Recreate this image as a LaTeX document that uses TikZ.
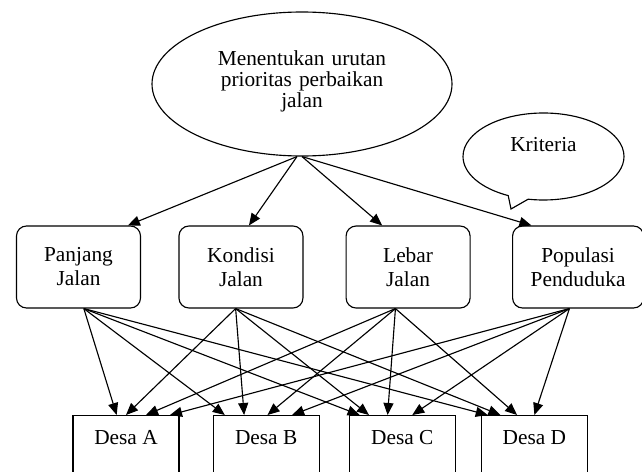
\documentclass[tikz,border=0pt]{standalone}
\usepackage{fontspec}
\setmainfont{Liberation Serif}
\usetikzlibrary{arrows.meta,positioning,shapes.geometric,shapes.callouts}

\begin{document}
\begin{tikzpicture}[
  x=0.75pt, y=-0.75pt,
  line width=0.85pt,
  font=\fontsize{16}{18}\selectfont,
  goal/.style ={draw, ellipse, minimum width=225pt, minimum height=108pt, inner sep=0pt,
                text width=140pt, align=center, text height=11pt, text depth=39.5pt,
                font=\fontsize{16}{15.75}\selectfont},
  note/.style ={draw, ellipse callout, minimum width=120.75pt, minimum height=65.25pt,
                inner sep=0pt, text height=11pt, text depth=19pt},
  crit/.style ={draw, rounded corners=7.5pt, minimum width=93pt, minimum height=61.5pt,
                align=center, inner sep=3pt},
  desa/.style ={draw, minimum width=79.5pt, inner xsep=3pt, inner ysep=10.75pt,
                text height=11pt, text depth=45pt},
  ar/.style   ={-{Triangle[length=9pt, width=7.5pt]}},
]
\useasboundingbox (0,0) rectangle (642,471);

% --- goal and note ---
\node[goal] (goal) at (302,84) {Menentukan urutan\\prioritas perbaikan\\jalan};
\node[note, callout absolute pointer={(511,209)}] (kriteria) at (543.5,156.5) {Kriteria};

% --- criteria ---
\node[crit] (panjang) at (78.5,267) {Panjang\\Jalan};
\node[crit, right=28pt of panjang] (kondisi) {Kondisi\\Jalan};
\node[crit, right=31.5pt of kondisi] (lebar) {Lebar\\Jalan};
\node[crit, right=31pt of lebar, minimum width=98.25pt] (populasi) {Populasi\\Penduduka};

% --- alternatives ---
\node[desa, anchor=north] (desaA) at (126,415) {Desa A};
\node[desa, right=24.75pt of desaA] (desaB) {Desa B};
\node[desa, right=21.75pt of desaB] (desaC) {Desa C};
\node[desa, right=18.75pt of desaC] (desaD) {Desa D};

% --- goal to criteria ---
\draw[ar] ([xshift=-3.75pt]goal.south) -- ([xshift=37pt]panjang.north);
\draw[ar] ([xshift=-3.75pt]goal.south) -- ([xshift=6pt]kondisi.north);
\draw[ar] (goal.south) -- ([xshift=-19.5pt]lebar.north);
\draw[ar] (goal.south) -- ([xshift=-35pt]populasi.north);

% --- criteria to alternatives ---
\draw[ar] ([xshift=4pt]panjang.south) -- ([xshift=-7pt]desaA.north);
\draw[ar] ([xshift=4pt]panjang.south) -- ([xshift=-31pt]desaB.north);
\draw[ar] ([xshift=4pt]panjang.south) -- ([xshift=-32pt]desaC.north);
\draw[ar] ([xshift=4pt]panjang.south) -- ([xshift=-35pt]desaD.north);
\draw[ar] ([xshift=-4pt]kondisi.south) -- (desaA.north);
\draw[ar] ([xshift=-4pt]kondisi.south) -- ([xshift=-16.5pt]desaB.north);
\draw[ar] ([xshift=-4pt]kondisi.south) -- ([xshift=-25pt]desaC.north);
\draw[ar] ([xshift=-4pt]kondisi.south) -- ([xshift=-25.5pt]desaD.north);
\draw[ar] ([xshift=-9.5pt]lebar.south) -- ([xshift=15pt]desaA.north);
\draw[ar] ([xshift=-9.5pt]lebar.south) -- ([xshift=1pt]desaB.north);
\draw[ar] ([xshift=-9.5pt]lebar.south) -- ([xshift=-11pt]desaC.north);
\draw[ar] ([xshift=-9.5pt]lebar.south) -- ([xshift=-13pt]desaD.north);
\draw[ar] ([xshift=-6.5pt]populasi.south) -- ([xshift=33pt]desaA.north);
\draw[ar] ([xshift=-6.5pt]populasi.south) -- ([xshift=19.5pt]desaB.north);
\draw[ar] ([xshift=-6.5pt]populasi.south) -- ([xshift=7.5pt]desaC.north);
\draw[ar] ([xshift=-6.5pt]populasi.south) -- (desaD.north);
\end{tikzpicture}
\end{document}
